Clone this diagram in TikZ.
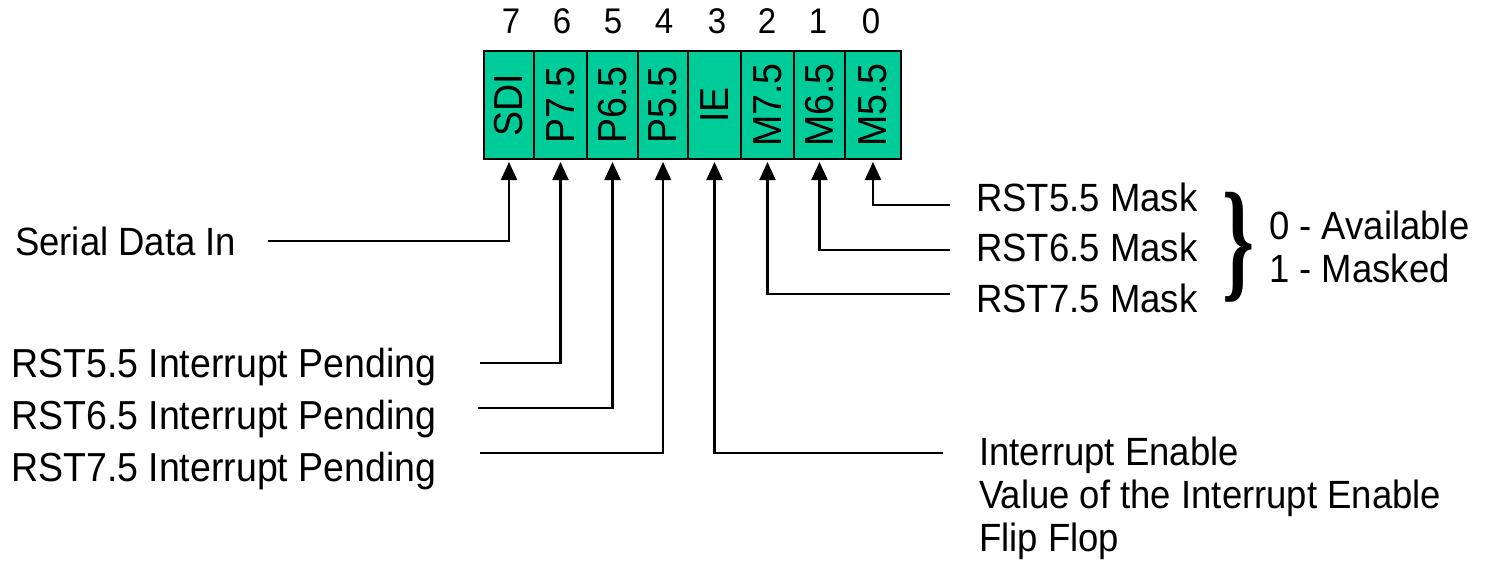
\documentclass[tikz,border=0pt]{standalone}
\usepackage{fontspec}
\usepackage{graphicx}
\setmainfont{Liberation Sans}
\newfontfamily\bracefont{Liberation Serif}
\usetikzlibrary{arrows.meta}
\definecolor{regfill}{RGB}{0,204,153}
\newcommand{\stt}[1]{\scalebox{1}[1.08]{#1}}
\newcommand{\cl}[1]{\rotatebox{90}{\stt{#1}}}
\begin{document}
\begin{tikzpicture}[x=1pt,y=-1pt,
  lbl/.style={font=\fontsize{36.5}{42}\selectfont, inner sep=0pt, anchor=base west},
  plbl/.style={lbl, font=\fontsize{37.5}{42}\selectfont},
  num/.style={font=\fontsize{33}{38}\selectfont, inner sep=0pt, anchor=base},
  cell/.style={draw=black, line width=2pt, fill=regfill, minimum height=108pt, inner sep=0pt, anchor=north west, font=\fontsize{37.5}{42}\selectfont},
  arr/.style={line width=2.2pt, -{Triangle[width=16pt,length=18pt]}, shorten >=2pt}]
\useasboundingbox (0,0) rectangle (1485,560);
% register cells
\node[cell, minimum width=50pt] (c7) at (483,50) {\cl{SDI}};
\node[cell, minimum width=53pt] (c6) at (533,50) {\cl{P7.5}};
\node[cell, minimum width=51pt] (c5) at (586,50) {\cl{P6.5}};
\node[cell, minimum width=50pt] (c4) at (637,50) {\cl{P5.5}};
\node[cell, minimum width=53pt] (c3) at (687,50) {\cl{IE}};
\node[cell, minimum width=53pt] (c2) at (740,50) {\cl{M7.5}};
\node[cell, minimum width=51pt] (c1) at (793,50) {\cl{M6.5}};
\node[cell, minimum width=56pt] (c0) at (844,50) {\cl{M5.5}};
% bit numbers
\node[num] (n7) at (511,33) {\stt{7}};
\node[num] (n6) at (562,33) {\stt{6}};
\node[num] (n5) at (613,33) {\stt{5}};
\node[num] (n4) at (664,33) {\stt{4}};
\node[num] (n3) at (717,33) {\stt{3}};
\node[num] (n2) at (767,33) {\stt{2}};
\node[num] (n1) at (818,33) {\stt{1}};
\node[num] (n0) at (871,33) {\stt{0}};
% labels left
\node[lbl] (lsdi) at (15,255) {\stt{Serial Data In}};
\node[plbl] (lp7) at (11,377) {\stt{RST5.5 Interrupt Pending}};
\node[plbl] (lp6) at (11,429) {\stt{RST6.5 Interrupt Pending}};
\node[plbl] (lp5) at (11,481) {\stt{RST7.5 Interrupt Pending}};
% labels right
\node[lbl] (lm5) at (976,211) {\stt{RST5.5 Mask}};
\node[lbl] (lm6) at (976,261) {\stt{RST6.5 Mask}};
\node[lbl] (lm7) at (976,312) {\stt{RST7.5 Mask}};
\node[lbl] (lie1) at (979,465) {\stt{Interrupt Enable}};
\node[lbl] (lie2) at (979,508) {\stt{Value of the Interrupt Enable}};
\node[lbl] (lie3) at (979,551) {\stt{Flip Flop}};
\node[lbl] (av) at (1269,239) {\stt{0 - Available}};
\node[lbl] (mk) at (1269,282) {\stt{1 - Masked}};
% brace
\node[inner sep=0pt] (brace) at (1238,247) {\resizebox*{32pt}{110pt}{\bracefont\bfseries\}}};
% line start points
\coordinate (s7) at (268,241);
\coordinate (s6) at (480,363);
\coordinate (s5) at (478,408);
\coordinate (s4) at (480,453);
\coordinate (s3) at (943,453);
\coordinate (s2) at (950,294);
\coordinate (s1) at (950,250);
\coordinate (s0) at (950,205);
% connectors
\draw[arr] (s7) -| (c7.south);
\draw[arr] (s6) -| (c6.south);
\draw[arr] (s5) -| (c5.south);
\draw[arr] (s4) -| (c4.south);
\draw[arr] (s3) -| (c3.south);
\draw[arr] (s2) -| (c2.south);
\draw[arr] (s1) -| (c1.south);
\draw[arr] (s0) -| (c0.south);
\end{tikzpicture}
\end{document}
